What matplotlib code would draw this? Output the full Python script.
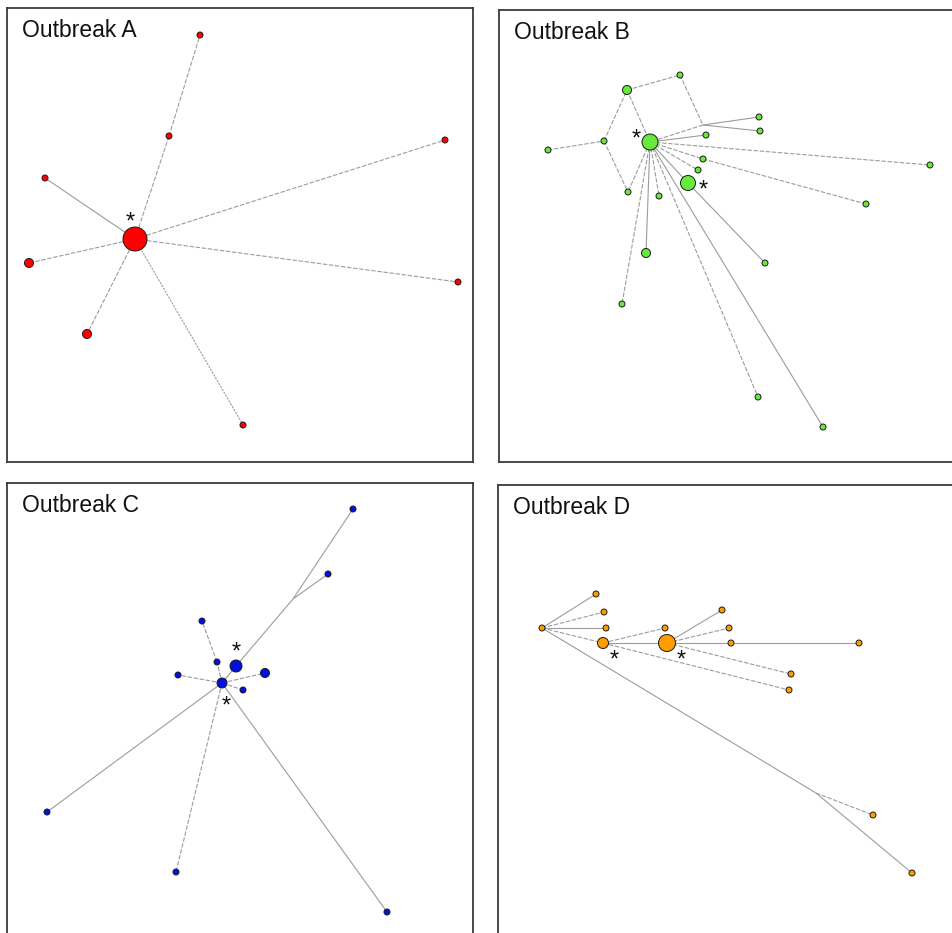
import matplotlib
matplotlib.use("Agg")
import matplotlib.pyplot as plt
import matplotlib.transforms as mtransforms

plt.rcParams['font.family'] = ['Liberation Sans', 'DejaVu Sans']

FIG_W, FIG_H = 952, 933
DPI = 100

# ---------------- Outbreak A ----------------
a_names = ["hub", "top", "mid", "ul", "ru", "rl", "left", "ll", "bottom"]
a_x = [128, 193, 162, 38, 438, 451, 22, 80, 236]
a_y = [231, 27, 128, 170, 132, 274, 255, 326, 417]
a_size = [24, 6, 6, 6, 6, 6, 9, 9, 6]
a_edges = [("hub", "mid", "--"), ("mid", "top", "--"), ("hub", "ul", "-"),
           ("hub", "ru", "--"), ("hub", "rl", "--"), ("hub", "left", "--"),
           ("hub", "ll", "--"), ("hub", "bottom", ":")]
a_stars = [(123, 210)]

# ---------------- Outbreak B ----------------
b_names = ["hub", "tl", "top", "lm", "fl", "ll", "n706", "jn", "r1", "r2",
           "n703", "n698", "hub2", "n659", "n646", "n622", "far", "n866",
           "n765", "n758", "n823"]
b_x = [151, 128, 181, 105, 49, 129, 207, 204, 260, 261,
       204, 199, 189, 160, 147, 123, 431, 367, 266, 259, 324]
b_y = [132, 80, 65, 131, 140, 182, 125, 115, 107, 121,
       149, 160, 173, 186, 243, 294, 155, 194, 253, 387, 417]
b_size = [16, 9, 6, 6, 6, 6, 6, 0, 6, 6,
          6, 6, 15, 6, 9, 6, 6, 6, 6, 6, 6]
b_edges = [("fl", "lm", "--"), ("lm", "tl", "--"), ("lm", "ll", "--"),
           ("tl", "hub", "--"), ("tl", "top", "--"), ("top", "jn", "--"),
           ("jn", "hub", "--"), ("jn", "r1", "-"), ("jn", "r2", "-"),
           ("hub", "n706", "-"), ("hub", "far", "--"), ("hub", "n703", "--"),
           ("n703", "n866", "--"), ("hub", "n698", "--"), ("hub", "hub2", "-"),
           ("hub2", "n765", "-"), ("hub", "n659", "--"), ("hub", "ll", "--"),
           ("hub", "n646", "-"), ("hub", "n622", "--"), ("hub", "n758", "--"),
           ("hub", "n823", "-")]
b_stars = [(137, 125), (204, 176)]

# ---------------- Outbreak C ----------------
c_names = ["tr", "n328", "jn", "n202", "n217", "hub2", "n265", "n178",
           "hub", "n243", "n47", "n176", "n387"]
c_x = [346, 321, 286, 195, 210, 229, 258, 171, 215, 236, 40, 169, 380]
c_y = [26, 91, 116, 138, 179, 183, 190, 192, 200, 207, 329, 389, 429]
c_size = [6, 6, 0, 6, 6, 12, 9, 6, 10, 6, 6, 6, 6]
c_edges = [("tr", "jn", "-"), ("jn", "n328", "-"), ("jn", "hub2", "-"),
           ("hub2", "hub", "-"), ("hub", "n217", "--"), ("n217", "n202", "--"),
           ("hub", "n178", "--"), ("hub", "n265", "--"), ("hub", "n243", "--"),
           ("hub", "n47", "-"), ("hub", "n176", "--"), ("hub", "n387", "-")]
c_stars = [(229, 165), (219, 219)]

# ---------------- Outbreak D ----------------
d_names = ["root", "a", "b", "c", "hub1", "d", "hub2", "e", "f", "g", "h",
           "i", "j", "jn", "k", "l"]
d_x = [44, 98, 106, 108, 105, 167, 169, 224, 231, 233, 361, 293, 291, 318, 375, 414]
d_y = [143, 109, 127, 143, 158, 143, 158, 125, 143, 158, 158, 189, 205, 308, 330, 388]
d_size = [6, 6, 6, 6, 11, 6, 17, 6, 6, 6, 6, 6, 6, 0, 6, 6]
d_edges = [("root", "a", "-"), ("root", "b", "--"), ("root", "c", "-"),
           ("root", "hub1", "--"), ("root", "jn", "-"), ("jn", "k", "--"),
           ("jn", "l", "-"), ("hub1", "d", "--"), ("hub1", "hub2", "-"),
           ("hub1", "j", "--"), ("hub2", "e", "-"), ("hub2", "f", "--"),
           ("hub2", "g", "-"), ("g", "h", "-"), ("hub2", "i", "--")]
d_stars = [(116, 171), (183, 171)]

panels = [
    dict(title="Outbreak A", color="#ff0000", box=(7, 8, 466, 454),
         names=a_names, x=a_x, y=a_y, size=a_size, edges=a_edges, stars=a_stars),
    dict(title="Outbreak B", color="#66ea3c", box=(499, 10, 466, 452),
         names=b_names, x=b_x, y=b_y, size=b_size, edges=b_edges, stars=b_stars),
    dict(title="Outbreak C", color="#0010e0", box=(7, 483, 466, 454),
         names=c_names, x=c_x, y=c_y, size=c_size, edges=c_edges, stars=c_stars),
    dict(title="Outbreak D", color="#ff9c00", box=(498, 485, 466, 454),
         names=d_names, x=d_x, y=d_y, size=d_size, edges=d_edges, stars=d_stars),
]

fig = plt.figure(figsize=(FIG_W / DPI, FIG_H / DPI), dpi=DPI)
px_to_pt = 72.0 / DPI

for p in panels:
    left, top, w, h = p["box"]
    ax = fig.add_axes([left / FIG_W, 1 - (top + h) / FIG_H, w / FIG_W, h / FIG_H])
    ax.set_xlim(0, w)
    ax.set_ylim(h, 0)
    ax.set_xticks([])
    ax.set_yticks([])
    for sp in ax.spines.values():
        sp.set_color("#3a3a3a")
        sp.set_linewidth(1.3)

    pos = {n: (xx, yy) for n, xx, yy in zip(p["names"], p["x"], p["y"])}
    for u, v, ls in p["edges"]:
        (x0, y0), (x1, y1) = pos[u], pos[v]
        kw = dict(color="#9c9c9c", lw=0.8, zorder=1, solid_capstyle="butt")
        if ls == "--":
            kw.update(linestyle=(0, (4, 1.5)))
        elif ls == ":":
            kw.update(linestyle=(0, (2, 1)))
        ax.plot([x0, x1], [y0, y1], **kw)

    xs = [xx for xx, s in zip(p["x"], p["size"]) if s > 0]
    ys = [yy for yy, s in zip(p["y"], p["size"]) if s > 0]
    ss = [(s * px_to_pt) ** 2 for s in p["size"] if s > 0]
    ax.scatter(xs, ys, s=ss, c=p["color"], edgecolors="#1a1a1a",
               linewidths=0.7, zorder=3)

    # the asterisk glyph sits high in its box; nudge it down a few pixels
    star_tf = ax.transData + mtransforms.ScaledTranslation(0, -4.5 / DPI,
                                                           fig.dpi_scale_trans)
    for sx, sy in p["stars"]:
        ax.text(sx, sy, "*", fontsize=17, ha="center", va="center",
                color="#111111", zorder=4, transform=star_tf)

    ax.text(15, 29, p["title"], fontsize=16.5, ha="left", va="baseline",
            color="#111111")

fig.savefig("out.png", dpi=DPI)
